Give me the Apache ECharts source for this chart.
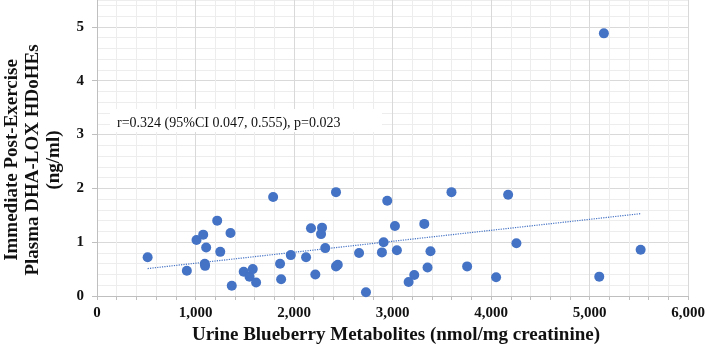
<!DOCTYPE html>
<html>
<head>
<meta charset="utf-8">
<script src="https://cdn.jsdelivr.net/npm/echarts@6/dist/echarts.min.js"></script>
<style>
  html, body {margin: 0; padding: 0; background: #fff;}
  #chart {width: 708px; height: 349px;}
</style>
</head>
<body>
<div id="chart"></div>
<script>
// urine metabolites (nmol/mg creatinine)
const metabolites = [514, 912, 1010, 1078, 1108, 1094, 1097, 1220, 1251, 1355, 1368, 1489, 1548, 1581, 1615,
  1788, 1858, 1869, 1967, 2122, 2172, 2284, 2274, 2216, 2426, 2317, 2426, 2444, 2660, 2730,
  2946, 2909, 2892, 3024, 3044, 3220, 3163, 3322, 3385, 3355, 3598, 3757, 4051, 4173, 4257,
  5098, 5518, 5145];
// plasma DHA-LOX HDoHEs (ng/ml)
const hdohes = [0.72, 0.47, 1.04, 1.14, 0.90, 0.60, 0.56, 1.40, 0.82, 1.17, 0.19, 0.45, 0.36, 0.50, 0.25,
  1.84, 0.60, 0.31, 0.76, 0.72, 1.26, 1.27, 1.15, 0.40, 1.93, 0.89, 0.55, 0.58, 0.80, 0.07,
  1.77, 1.00, 0.81, 1.30, 0.85, 0.39, 0.26, 1.34, 0.83, 0.53, 1.93, 0.55, 0.35, 1.88, 0.98,
  0.36, 0.86, 4.88];
// trendline ends
const trendX = [514, 5518];
const trendY = [0.51, 1.53];

const xTitle = 'Urine Blueberry Metabolites (nmol/mg creatinine)';
const yTitle = ['Immediate Post-Exercise', 'Plasma DHA-LOX HDoHEs', '(ng/ml)'];
const note = 'r=0.324 (95%CI 0.047, 0.555), p=0.023';

const blue = '#4472C4';
const major = '#d9d9d9';
const minor = '#ededed';
const font = '"Liberation Serif", "Times New Roman", serif';

const chart = echarts.init(document.getElementById('chart'));

const points = metabolites.map((x, i) => [x, hdohes[i]]);
const trend = trendX.map((x, i) => [x, trendY[i]]);

const option = {
  animation: false,
  grid: {left: 97, right: 19, top: 0, bottom: 53},
  xAxis: {
    type: 'value',
    min: 0,
    max: 6000,
    interval: 200,
    axisLine: {lineStyle: {color: '#bfbfbf', width: 1}},
    axisTick: {show: true, length: 4, lineStyle: {color: '#bfbfbf'}},
    axisLabel: {
      margin: 10,
      fontFamily: font,
      fontSize: 15,
      fontWeight: 'bold',
      color: '#111',
      formatter: (v) => (Math.round(v) % 1000 === 0 ? Math.round(v).toLocaleString('en-US') : '')
    },
    splitLine: {show: true, lineStyle: {color: [major, minor, minor, minor, minor], width: 1}}
  },
  yAxis: [
    {
      type: 'value',
      position: 'left',
      min: 0,
      max: 5.5,
      interval: 0.2,
      axisLine: {show: true, lineStyle: {color: '#bfbfbf'}},
      axisTick: {show: false},
      axisLabel: {show: false},
      splitLine: {show: true, lineStyle: {color: [major, minor, minor, minor, minor], width: 1}}
    },
    {
      type: 'value',
      position: 'left',
      min: 0,
      max: 5.5,
      interval: 1,
      axisLine: {show: false},
      axisTick: {show: true, length: 5, lineStyle: {color: '#bfbfbf'}},
      axisLabel: {
        margin: 13,
        fontFamily: font,
        fontSize: 15,
        fontWeight: 'bold',
        color: '#111',
        showMaxLabel: false,
        formatter: (v) => (Math.abs(v - Math.round(v)) < 1e-6 ? String(Math.round(v)) : '')
      },
      splitLine: {show: false}
    }
  ],
  graphic: [
    {
      type: 'text',
      x: 396,
      y: 335,
      style: {text: xTitle, font: 'bold 19px ' + font, fill: '#111', align: 'center', verticalAlign: 'middle'}
    },
    {
      type: 'text',
      x: 33,
      y: 160,
      rotation: Math.PI / 2,
      style: {
        text: yTitle.join('\n'),
        font: 'bold 19px ' + font,
        lineHeight: 21,
        fill: '#111',
        align: 'center',
        verticalAlign: 'middle'
      }
    },
    {
      type: 'rect',
      shape: {x: 110, y: 109, width: 272, height: 23},
      style: {fill: '#fff'},
      z: 10
    },
    {
      type: 'text',
      x: 117,
      y: 123,
      z: 11,
      style: {text: note, font: '14px ' + font, fill: '#111', verticalAlign: 'middle'}
    }
  ],
  series: [
    {
      type: 'line',
      data: trend,
      symbol: 'none',
      z: 3,
      lineStyle: {color: blue, width: 1.2, type: 'dotted'}
    },
    {
      type: 'scatter',
      data: points,
      symbolSize: 10,
      z: 4,
      itemStyle: {color: blue, opacity: 1}
    }
  ]
};

chart.setOption(option);
</script>
</body>
</html>
